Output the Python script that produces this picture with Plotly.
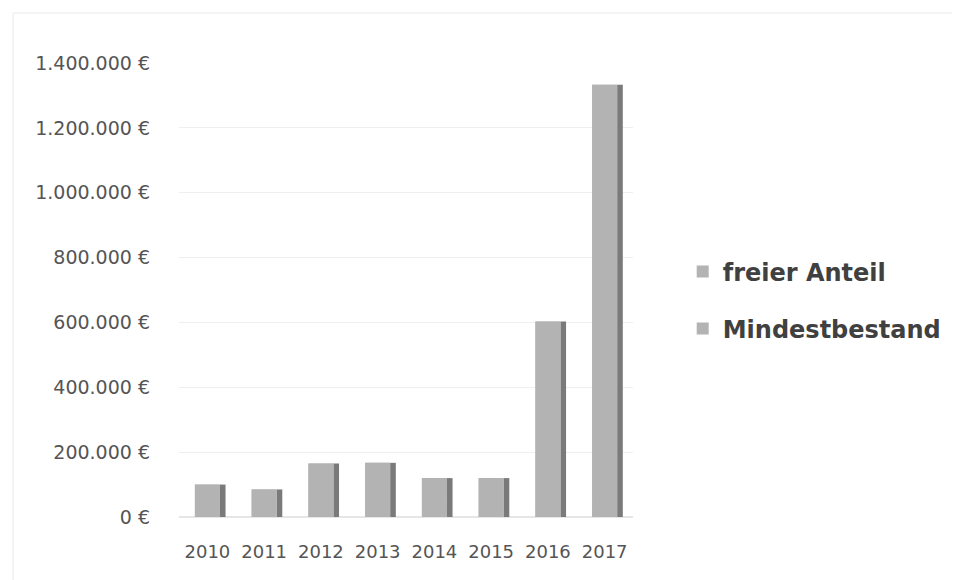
import plotly.graph_objects as go

jahre = ["2010", "2011", "2012", "2013", "2014", "2015", "2016", "2017"]
mindestbestand = [50000, 50000, 50000, 50000, 50000, 50000, 50000, 50000]
freier_anteil = [50000, 35000, 115000, 117000, 70000, 70000, 553000, 1283000]
gesamt = [m + f for m, f in zip(mindestbestand, freier_anteil)]

face = "#b3b3b3"
side = "#7a7a7a"
txt = "#555555"

W, H = 957, 580
L, R, T, B = 179, 10, 63, 63
pw, ph = W - L - R, H - T - B
plot_right = 636  # right edge of the plotting area, px

fig = go.Figure()
# side face (3D look)
fig.add_trace(go.Bar(x=jahre, y=gesamt, width=0.1, offset=0.22, marker=dict(color=side, line=dict(width=0)),
                     showlegend=False, hoverinfo="skip"))
# backing face so the stack seam does not show
fig.add_trace(go.Bar(x=jahre, y=gesamt, width=0.44, offset=-0.22, marker=dict(color=face, line=dict(width=0)),
                     showlegend=False, hoverinfo="skip"))
fig.add_trace(go.Bar(x=jahre, y=mindestbestand, name="Mindestbestand", width=0.44, offset=-0.22,
                     marker=dict(color=face, line=dict(width=0)), legend="legend2"))
fig.add_trace(go.Bar(x=jahre, y=freier_anteil, base=mindestbestand, name="freier Anteil", width=0.44, offset=-0.22,
                     marker=dict(color=face, line=dict(width=0)), legend="legend"))

# faint outer chart frame (top and left edges visible in the scan)
fig.add_shape(type="line", xref="paper", yref="paper",
              x0=(12 - L) / pw, x1=(957 - L) / pw, y0=(H - 13 - B) / ph, y1=(H - 13 - B) / ph,
              line=dict(color="#f0f0f0", width=1.5))
fig.add_shape(type="line", xref="paper", yref="paper",
              x0=(12 - L) / pw, x1=(12 - L) / pw, y0=(H - 13 - B) / ph, y1=(0 - B) / ph,
              line=dict(color="#f0f0f0", width=1.5))

fig.update_layout(
    width=W, height=H,
    barmode="overlay",
    separators=",.",
    plot_bgcolor="white", paper_bgcolor="white",
    margin=dict(l=L, r=R, t=T, b=B),
    font=dict(family="DejaVu Sans", color=txt),
    xaxis=dict(type="category", showgrid=False, showline=False, ticks="",
               domain=[0, (plot_right - L) / pw],
               tickfont=dict(size=18, color=txt), ticklabelstandoff=22),
    yaxis=dict(range=[0, 1400000], dtick=200000, tickformat=",.0f", ticksuffix=" €",
               showgrid=True, gridcolor="#efefef", gridwidth=1, zeroline=True, zerolinecolor="#e6e6e6",
               tickfont=dict(size=19, color=txt), ticklabelstandoff=28),
    legend=dict(x=(686 - L) / pw, y=(H - 272 - B) / ph, yanchor="middle", xanchor="left",
                font=dict(size=24, color="#404040", weight="bold"), bgcolor="rgba(0,0,0,0)"),
    legend2=dict(x=(686 - L) / pw, y=(H - 329 - B) / ph, yanchor="middle", xanchor="left",
                 font=dict(size=24, color="#404040", weight="bold"), bgcolor="rgba(0,0,0,0)"),
)

fig.write_html("out.html")
